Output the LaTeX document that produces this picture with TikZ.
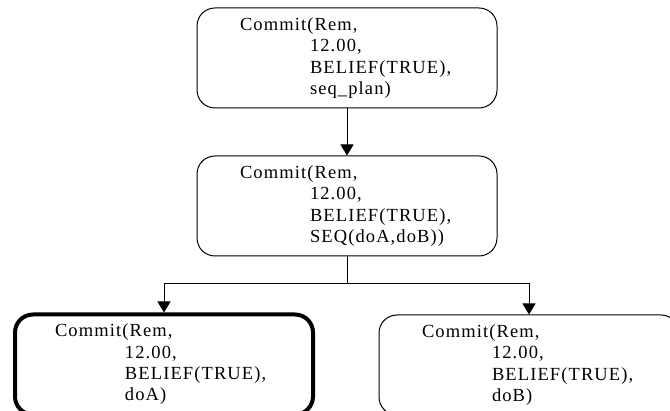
\documentclass[tikz,border=0pt]{standalone}
\usepackage{fontspec}
\setmainfont{Liberation Serif}[LetterSpace=6]
\usetikzlibrary{arrows.meta,positioning}

\newcommand{\ind}{\hspace*{70pt}}

\begin{document}
\begin{tikzpicture}[%
    >={Triangle[width=13pt,length=11pt]}, % Filled heads
    node distance=47pt,                   % Global vertical spacing
    ]
% -------------------------------------------------
% Box and connector styles
\tikzset{
  base/.style={draw, rounded corners=18pt, align=left, line width=1pt,
    minimum height=100pt, inner ysep=0pt, inner xsep=43pt,
    text width=214pt,
    font=\fontsize{18.5}{21.3}\selectfont},
  goal/.style={base},
  chosen/.style={base, line width=4pt, inner xsep=40pt, text width=218pt},
  to/.style={->, line width=1pt}
}
\useasboundingbox (0pt,0pt) rectangle (670pt,-411pt);
% -------------------------------------------------
% Place the goals

\node [goal] (top) at (347pt,-58pt)
  {Commit(Rem,\\\ind 12.00,\\\ind BELIEF(TRUE),\\\ind seq\_plan)};
\node [goal, below = of top] (mid)
  {Commit(Rem,\\\ind 12.00,\\\ind BELIEF(TRUE),\\\ind SEQ(doA,doB))};
\node [chosen, below = 56pt of mid, xshift=-183pt] (doa)
  {Commit(Rem,\\\ind 12.00,\\\ind BELIEF(TRUE),\\\ind doA)};
\node [goal, below = 58pt of mid, xshift=182pt] (dob)
  {Commit(Rem,\\\ind 12.00,\\\ind BELIEF(TRUE),\\\ind doB)};

\coordinate [below = 27pt of mid.south] (split);

\draw[to] (top) to (mid);		%seq_plan expands to SEQ
\draw[to] (mid.south) -- (split) -| (doa.north);		%first step
\draw[to] (split) -| (dob.north);		%second step

% -------------------------------------------------
\end{tikzpicture}
\end{document}
